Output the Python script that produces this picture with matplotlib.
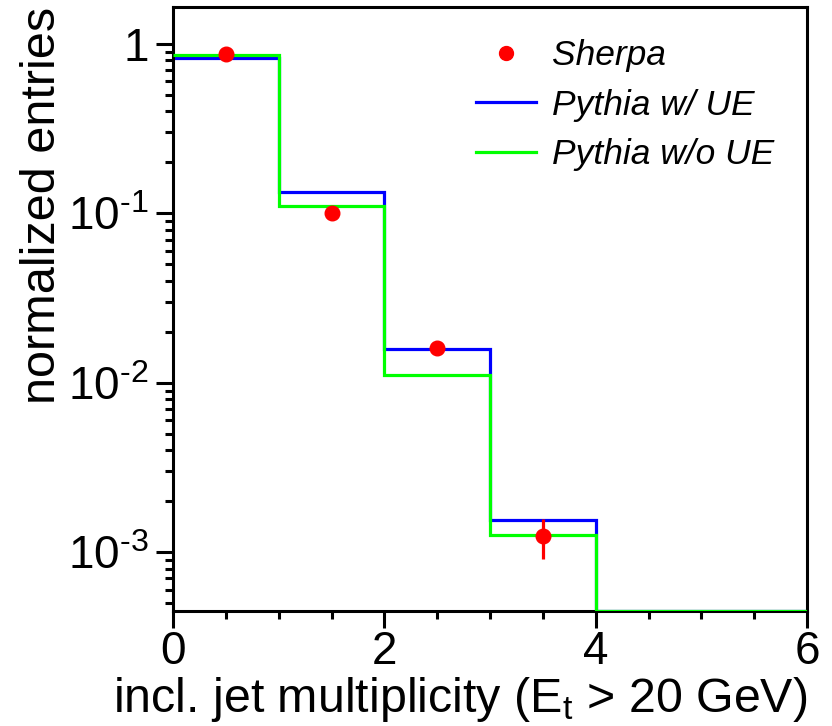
import numpy as np
import matplotlib
matplotlib.use('Agg')
import matplotlib.pyplot as plt
from matplotlib.lines import Line2D
from matplotlib.ticker import FixedLocator, LogLocator, FuncFormatter, NullFormatter

plt.rcParams['font.family'] = ['Liberation Sans', 'DejaVu Sans']
plt.rcParams['mathtext.fontset'] = 'custom'
plt.rcParams['mathtext.rm'] = 'Liberation Sans'
plt.rcParams['mathtext.it'] = 'Liberation Sans:italic'

# jet multiplicity bins
edges = [0, 1, 2, 3, 4, 5, 6]
pythia_ue = [0.83, 0.133, 0.0158, 0.00154, 0.0, 0.0]
pythia_noue = [0.86, 0.110, 0.0111, 0.00126, 0.0, 0.0]

# sherpa points with errors
sherpa_x = [0.5, 1.5, 2.5, 3.5]
sherpa_y = [0.87, 0.101, 0.0160, 0.00124]
sherpa_err_lo = [0.01, 0.002, 0.0004, 0.00033]
sherpa_err_hi = [0.01, 0.002, 0.0004, 0.00034]

ymin, ymax = 4.5e-4, 1.65


def floor_empty(vals):
    # empty bins get drawn along the bottom of the frame
    v = np.array(vals)
    return np.where(v > 0, v, ymin)


fig = plt.figure(figsize=(8.32, 7.26), dpi=100)
ax = fig.add_axes([173 / 832, 1 - 611 / 726, 634 / 832, 604 / 726])

ax.stairs(floor_empty(pythia_ue), edges, baseline=None, color='#0000ff', lw=2.3, zorder=2)
ax.stairs(floor_empty(pythia_noue), edges, baseline=None, color='#00ff00', lw=2.3, zorder=3)
ax.errorbar(sherpa_x, sherpa_y, yerr=[sherpa_err_lo, sherpa_err_hi], fmt='o', color='#ff0000',
            ms=10.5, elinewidth=2.3, capsize=0, zorder=4)

ax.set_yscale('log')
ax.set_xlim(0, 6)
ax.set_ylim(ymin, ymax)

for sp in ax.spines.values():
    sp.set_linewidth(2.2)

ax.xaxis.set_major_locator(FixedLocator([0, 2, 4, 6]))
ax.xaxis.set_minor_locator(FixedLocator(np.arange(0, 6.01, 0.5)))
ax.yaxis.set_major_locator(LogLocator(base=10))
ax.yaxis.set_minor_locator(LogLocator(base=10, subs=np.arange(2, 10)))
ax.yaxis.set_minor_formatter(NullFormatter())


def log_label(v, pos):
    e = int(round(np.log10(v)))
    if e == 0:
        return '1'
    return r'$\mathregular{10^{\text{%d}}}$' % e


ax.yaxis.set_major_formatter(FuncFormatter(log_label))
ax.tick_params(which='both', direction='out', top=False, right=False, width=2.2, labelsize=33)
ax.tick_params(which='major', length=12.5)
ax.tick_params(which='minor', length=6)
ax.tick_params(axis='x', which='major', pad=1)
ax.tick_params(axis='y', which='major', pad=5)

ax.set_xlabel(r'incl. jet multiplicity ($\mathregular{E_t}$ > 20 GeV)', fontsize=34.8,
              loc='right', va='baseline')
ax.xaxis.set_label_coords(1.0, -(712 - 611) / 604)
ax.set_ylabel('normalized entries', fontsize=35, loc='top', va='baseline')
ax.yaxis.set_label_coords((55 - 173) / 634, 1.0)

handles = [
    Line2D([], [], marker='o', ls='none', color='#ff0000', ms=10),
    Line2D([], [], color='#0000ff', lw=2.3),
    Line2D([], [], color='#00ff00', lw=2.3),
]
labels = ['Sherpa', 'Pythia w/ UE', 'Pythia w/o UE']
ax.legend(handles, labels,
          loc='upper left', bbox_to_anchor=((476 - 173) / 634, (611 - 39) / 604),
          frameon=False, prop={'style': 'italic', 'size': 25.5}, handlelength=1.7,
          handletextpad=0.45, labelspacing=0.47, borderpad=0, borderaxespad=0)

fig.savefig('out.png', dpi=100)
